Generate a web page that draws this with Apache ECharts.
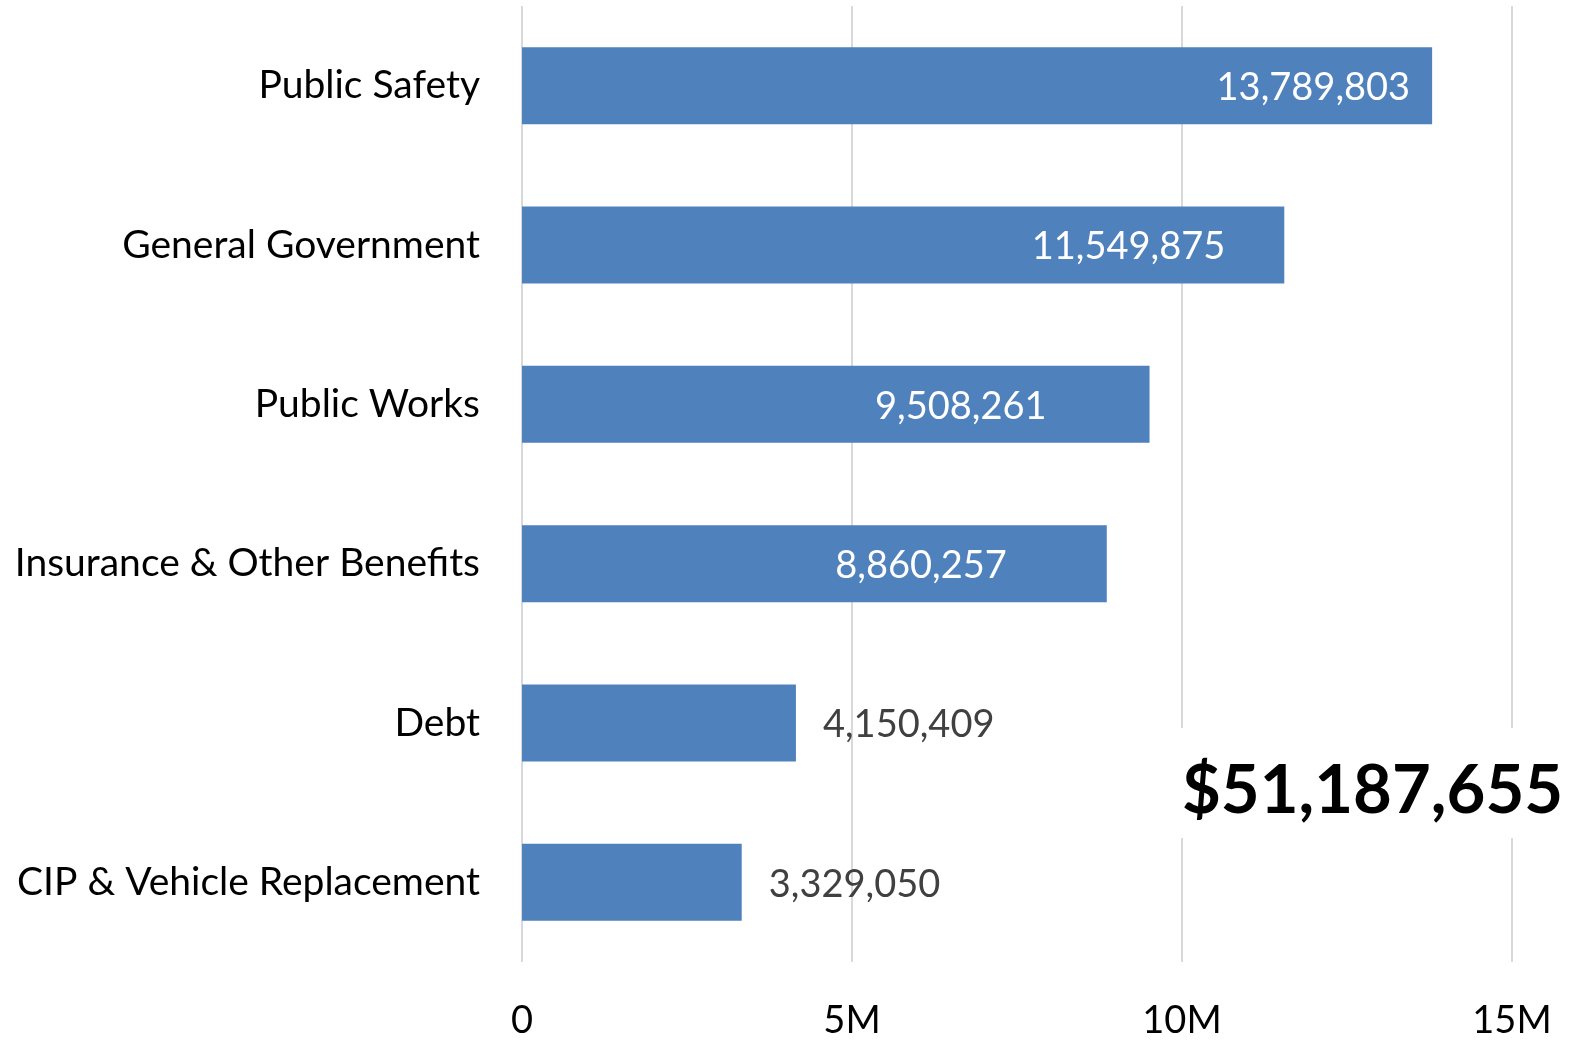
<!DOCTYPE html>
<html>
<head>
<meta charset="utf-8">
<script src="https://cdn.jsdelivr.net/npm/echarts@6/dist/echarts.min.js"></script>
<style>html,body{margin:0;padding:0;background:#fff;}#c{width:1572px;height:1040px;}</style>
</head>
<body>
<div id="c"></div>
<script>
// Data (top to bottom as shown)
var categories = ['Public Safety', 'General Government', 'Public Works', 'Insurance & Other Benefits', 'Debt', 'CIP & Vehicle Replacement'];
var values = [13789803, 11549875, 9508261, 8860257, 4150409, 3329050];
var xTickLabels = ['0', '5M', '10M', '15M'];

// Label styling (positions / colours), kept separate from data
var labelInside = [true, true, true, true, false, false];
var labelGap = [22, 59, 103, 100, 27, 27];

var FONT = 'Lato';
var total = values.reduce(function (a, b) { return a + b; }, 0);

var seriesData = values.map(function (v, i) {
  var inside = labelInside[i];
  return {
    value: v,
    label: {
      show: true,
      position: inside ? 'insideRight' : 'right',
      distance: labelGap[i],
      offset: [0, 2],
      color: inside ? '#ffffff' : '#404040',
      fontSize: 38,
      fontFamily: FONT,
      formatter: function (p) { return p.value.toLocaleString('en-US'); }
    }
  };
});

var chart = echarts.init(document.getElementById('c'));
chart.setOption({
  animation: false,
  backgroundColor: '#ffffff',
  grid: { left: 522, right: 60, top: 6, bottom: 73, containLabel: false },
  xAxis: {
    type: 'value',
    min: 0, max: 15000000, interval: 5000000,
    axisLine: { show: false },
    axisTick: { show: false },
    splitLine: { show: true, lineStyle: { color: '#d9d9d9', width: 2 } },
    axisLabel: {
      margin: 40,
      fontSize: 38, fontFamily: FONT, color: '#000000',
      formatter: function (v) { return xTickLabels[Math.round(v / 5000000)]; }
    }
  },
  yAxis: {
    type: 'category',
    data: categories,
    inverse: true,
    axisLine: { show: false },
    axisTick: { show: false },
    splitLine: { show: false },
    axisLabel: { margin: 42, fontSize: 39, fontFamily: FONT, color: '#000000' }
  },
  series: [{
    type: 'bar',
    data: seriesData,
    barWidth: 77,
    itemStyle: { color: '#4f81bd' }
  }],
  graphic: [{
    type: 'text',
    left: 1168,
    top: 728,
    z: 100,
    style: {
      text: '$' + total.toLocaleString('en-US'),
      fontSize: 67,
      lineHeight: 66,
      fontWeight: 'bold',
      fontFamily: FONT,
      fill: '#000000',
      backgroundColor: '#ffffff',
      padding: [30, 14, 14, 14]
    }
  }]
});
</script>
</body>
</html>
